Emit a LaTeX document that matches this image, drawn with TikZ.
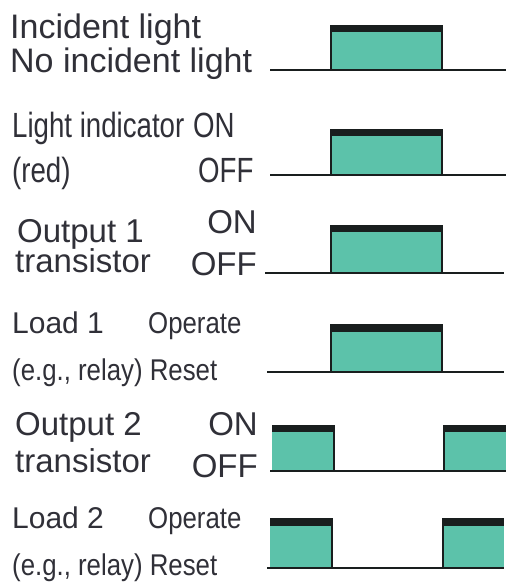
\documentclass[tikz,border=0pt]{standalone}
\usepackage{fontspec}
\setmainfont{Liberation Sans}
\newfontfamily\narrowfont[FakeStretch=0.79]{Liberation Sans}
\newfontfamily\semifont[FakeStretch=0.86]{Liberation Sans}
\definecolor{teal1}{RGB}{92,194,170}
\definecolor{txt}{RGB}{48,48,56}
\definecolor{bar}{RGB}{25,30,30}
\begin{document}
\begin{tikzpicture}[x=1pt,y=-1pt,
  lbl/.style={inner sep=0pt,anchor=base west,text=txt},
  lblr/.style={inner sep=0pt,anchor=base east,text=txt},
  big/.style={font=\fontsize{34}{36}\selectfont},
  mid/.style={font=\fontsize{33}{36}\selectfont},
  nar/.style={font=\narrowfont\fontsize{35}{36}\selectfont},
  sml/.style={font=\semifont\fontsize{30}{32}\selectfont},
  smlw/.style={font=\fontsize{30}{32}\selectfont},
  base/.style={line width=2pt,draw=bar},
  edge/.style={line width=2pt,draw=bar},
  pfill/.style={fill=teal1},
  pbar/.style={fill=bar}]
\useasboundingbox (0,0) rectangle (506,586);
\fill[white] (0,0) rectangle (506,586);
% ---------- Row 1
\node[lbl,big] (r1a) at (10,38) {Incident light};
\node[lbl,big] (r1b) at (10,72) {No incident light};
\fill[pfill] (331,32) rectangle (442,70);
\draw[edge] (331,70) -- (331,28) (442,28) -- (442,70);
\fill[pbar] (330,25) rectangle (443,32);
\draw[base] (270,70) -- (506,70);
% ---------- Row 2
\node[lbl,nar] (r2a) at (12,137) {Light indicator};
\node[lbl,nar] (r2b) at (12,182) {(red)};
\node[lbl,nar] (r2on) at (193,137) {ON};
\node[lbl,nar] (r2off) at (198,182) {OFF};
\fill[pfill] (331,136) rectangle (442,175);
\draw[edge] (331,175) -- (331,132) (442,132) -- (442,175);
\fill[pbar] (330,129) rectangle (443,136);
\draw[base] (270,175) -- (506,175);
% ---------- Row 3
\node[lbl,mid] (r3a) at (17,242) {Output 1};
\node[lbl,mid] (r3b) at (15,272) {transistor};
\node[lblr,mid] (r3on) at (257,233) {ON};
\node[lblr,mid] (r3off) at (257,275) {OFF};
\fill[pfill] (331,232) rectangle (442,273);
\draw[edge] (331,273) -- (331,228) (442,228) -- (442,273);
\fill[pbar] (330,225) rectangle (443,232);
\draw[base] (265,273) -- (504,273);
% ---------- Row 4
\node[lbl,smlw] (r4a) at (12,333) {Load 1};
\node[lbl,sml] (r4op) at (148,333) {Operate};
\node[lbl,sml] (r4b) at (12,380) {(e.g., relay) Reset};
\fill[pfill] (331,332) rectangle (442,372);
\draw[edge] (331,372) -- (331,328) (442,328) -- (442,372);
\fill[pbar] (330,324) rectangle (443,332);
\draw[base] (267,372) -- (504,372);
% ---------- Row 5
\node[lbl,mid] (r5a) at (15,435) {Output 2};
\node[lbl,mid] (r5b) at (15,472) {transistor};
\node[lblr,mid] (r5on) at (258,435) {ON};
\node[lblr,mid] (r5off) at (258,477) {OFF};
\fill[pfill] (272,432) rectangle (334,471);
\fill[pfill] (444,432) rectangle (506,471);
\draw[edge] (334,428) -- (334,471) (444,471) -- (444,428);
\fill[pbar] (272,425) rectangle (335,432);
\fill[pbar] (443,425) rectangle (506,432);
\draw[base] (270,471) -- (506,471);
% ---------- Row 6
\node[lbl,smlw] (r6a) at (12,528) {Load 2};
\node[lbl,sml] (r6op) at (148,528) {Operate};
\node[lbl,sml] (r6b) at (12,575) {(e.g., relay) Reset};
\fill[pfill] (270,526) rectangle (332,568);
\fill[pfill] (443,526) rectangle (504,568);
\draw[edge] (332,522) -- (332,568) (443,568) -- (443,522);
\fill[pbar] (270,518) rectangle (333,526);
\fill[pbar] (442,518) rectangle (504,526);
\draw[base] (267,568) -- (504,568);
\end{tikzpicture}
\end{document}
